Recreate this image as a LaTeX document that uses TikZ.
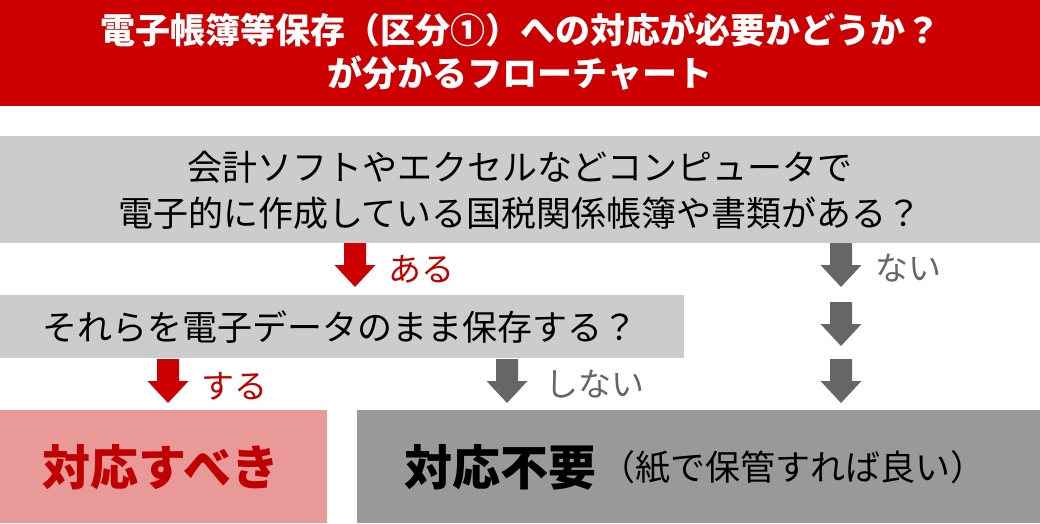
\documentclass[tikz,border=0pt]{standalone}
\usepackage{fontspec}
\setmainfont{Noto Sans CJK JP}
\definecolor{titlered}{HTML}{CC0000}
\definecolor{darkred}{HTML}{C00000}
\definecolor{lightgray}{HTML}{CCCCCC}
\definecolor{midgray}{HTML}{999999}
\definecolor{pinkred}{HTML}{EA9999}
\definecolor{arrowgray}{HTML}{666666}
\tikzset{
  panel/.style={inner sep=0pt, outer sep=0pt},
  qtext/.style={align=center, font=\fontsize{35}{46}\selectfont, text=black},
  lbl/.style={anchor=west, font=\fontsize{33}{40}\selectfont},
  pics/blockarrow/.style={code={
    \fill[#1] (-11,0) -- (11,0) -- (11,22) -- (20.5,22) -- (0,44) -- (-20.5,22) -- (-11,22) -- cycle;
  }}
}
\begin{document}
\begin{tikzpicture}[x=1pt,y=-1pt]
\useasboundingbox (0,0) rectangle (1040,523);
% panels
\fill[titlered] (0,0) rectangle (1040,106);
\fill[lightgray] (0,136) rectangle (1040,243);
\fill[lightgray] (0,295) rectangle (684,358);
\fill[pinkred] (0,410) rectangle (327,523);
\fill[midgray] (357,410) rectangle (1040,523);
% texts
\node[align=center, text=white, font=\fontsize{35}{43}\selectfont\bfseries] (title) at (520,52)
  {電子帳簿等保存（区分①）への対応が必要かどうか？\\が分かるフローチャート};
\node[qtext] (q1) at (520,190)
  {会計ソフトやエクセルなどコンピュータで\\電子的に作成している国税関係帳簿や書類がある？};
\node[qtext] (q2) at (340,327) {それらを電子データのまま保存する？};
\node[text=darkred, font=\fontsize{48}{56}\selectfont\bfseries] (yes) at (161,467) {対応すべき};
\node[anchor=west, inner sep=0pt, font=\fontsize{48}{56}\selectfont\bfseries] (no) at (404,467) {対応不要};
\node[anchor=west, inner sep=0pt, font=\fontsize{35}{42}\selectfont] (nonote) at ([xshift=4pt]no.east) {（紙で保管すれば良い）};
% arrows
\coordinate (a1) at (355,243);
\coordinate (a2) at (168,359);
\coordinate (a3) at (507,359);
\coordinate (b1) at (841,243);
\coordinate (b2) at (841,302);
\coordinate (b3) at (841,359);
\pic at (a1) {blockarrow=titlered};
\pic at (a2) {blockarrow=titlered};
\pic at (a3) {blockarrow=arrowgray};
\pic at (b1) {blockarrow=arrowgray};
\pic at (b2) {blockarrow=arrowgray};
\pic at (b3) {blockarrow=arrowgray};
% labels
\node[lbl, text=darkred] (aru) at (385,269) {ある};
\node[lbl, text=darkred] (suru) at (198,386) {する};
\node[lbl, text=arrowgray] (shinai) at (542,384) {しない};
\node[lbl, text=arrowgray] (nai) at (872,268) {ない};
\end{tikzpicture}
\end{document}
